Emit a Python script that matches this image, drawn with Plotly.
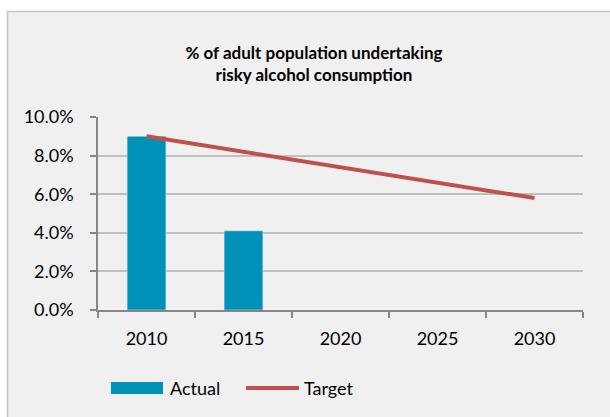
import plotly.graph_objects as go

years = ["2010", "2015", "2020", "2025", "2030"]
actual = [0.090, 0.041, None, None, None]
target = [0.090, 0.082, 0.074, 0.066, 0.058]
series_names = ["Actual", "Target"]
title_lines = ["% of adult population undertaking", "risky alcohol consumption"]

FONT = "Lato"
BAR_COLOR = "#0091b8"
LINE_COLOR = "#c0504d"
L, R, T, B = 98, 27, 117, 107
W, H = 610, 417
pw, ph = W - L - R, H - T - B

def px2x(px):
    return (px - L) / pw

def py2y(py):
    return (H - B - py) / ph

fig = go.Figure()
fig.add_trace(go.Bar(x=years, y=actual, name=series_names[0], marker_color=BAR_COLOR,
                     width=0.4, showlegend=False))
fig.add_trace(go.Scatter(x=years, y=target, name=series_names[1], mode="lines",
                         line=dict(color=LINE_COLOR, width=4), showlegend=False))

# chart area frame
fig.add_shape(type="rect", xref="paper", yref="paper", layer="below",
              x0=px2x(7.5), x1=px2x(640), y0=py2y(440), y1=py2y(11.5),
              fillcolor="#f0f0f0", line=dict(color="#c4c4c4", width=1.5))

# legend (drawn manually to mimic the wide swatches)
fig.add_shape(type="rect", xref="paper", yref="paper",
              x0=px2x(111), x1=px2x(163), y0=py2y(394), y1=py2y(382),
              fillcolor=BAR_COLOR, line=dict(width=0))
fig.add_annotation(xref="paper", yref="paper", x=px2x(168), y=py2y(388),
                   xanchor="left", yanchor="middle", showarrow=False,
                   text=series_names[0], font=dict(size=18))
fig.add_shape(type="line", xref="paper", yref="paper",
              x0=px2x(246), x1=px2x(299), y0=py2y(388), y1=py2y(388),
              line=dict(color=LINE_COLOR, width=4))
fig.add_annotation(xref="paper", yref="paper", x=px2x(302), y=py2y(388),
                   xanchor="left", yanchor="middle", showarrow=False,
                   text=series_names[1], font=dict(size=18))

fig.update_layout(
    width=W, height=H,
    margin=dict(l=L, r=R, t=T, b=B),
    paper_bgcolor="white", plot_bgcolor="#f0f0f0",
    font=dict(family=FONT, size=18, color="#000000"),
    title=dict(text="<b>" + "<br>".join(title_lines) + "</b>",
               x=314 / W, xanchor="center", y=1 - 58.5 / H, yanchor="middle",
               font=dict(family=FONT, size=17)),
    bargap=0.6,
    showlegend=False,
)
fig.update_xaxes(showline=True, linecolor="#868686", linewidth=1.5,
                 ticks="outside", tickson="boundaries", ticklen=6,
                 tickcolor="#868686", tickwidth=1.5, showgrid=False,
                 ticklabelstandoff=12)
fig.update_yaxes(range=[0, 0.1], dtick=0.02, tickformat=".1%",
                 showline=True, linecolor="#868686", linewidth=1.5,
                 ticks="outside", ticklen=6, tickcolor="#868686", tickwidth=1.5,
                 gridcolor="#bfbfbf", gridwidth=1.5, zeroline=False,
                 ticklabelstandoff=13)

fig.write_html("out.html")
